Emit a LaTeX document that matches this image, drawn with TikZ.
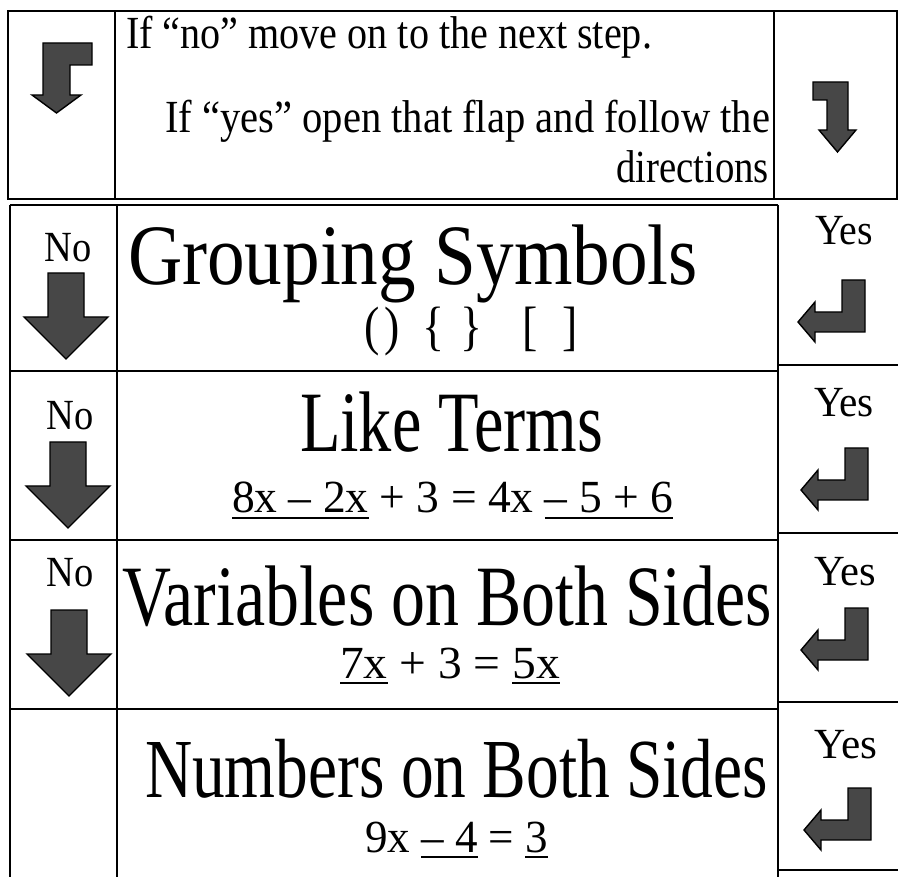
\documentclass[tikz,border=0pt]{standalone}
\usepackage{fontspec}
\setmainfont{Liberation Serif}
\usepackage{graphicx}
\newcommand\fw[3]{\resizebox{#1pt}{\height}{\fontsize{#2pt}{#2pt}\selectfont #3}}
\newcommand\ulx[1]{\setbox0\hbox{#1}\rlap{\rule[-0.13em]{\wd0}{0.05em}}\box0{}}
\newcommand\sg[1]{\scalebox{0.85}[1]{#1}}
\newcommand\noarrow[2]{\filldraw[blockarrow] ({#1-18},{#2}) -- ({#1+18},{#2}) -- ({#1+18},{#2+44}) -- ({#1+42},{#2+44}) -- ({#1},{#2+86}) -- ({#1-42},{#2+44}) -- ({#1-18},{#2+44}) -- cycle;}
\newcommand\yesarrow[2]{\filldraw[blockarrow] ({#1},{#2}) -- ({#1},{#2+52}) -- ({#1-50},{#2+52}) -- ({#1-50},{#2+62}) -- ({#1-67},{#2+42}) -- ({#1-50},{#2+22}) -- ({#1-50},{#2+32}) -- ({#1-23},{#2+32}) -- ({#1-23},{#2}) -- cycle;}
\begin{document}
\begin{tikzpicture}[x=1pt,y=-1pt,
  grid/.style={line width=1.3pt,draw=black},
  blockarrow/.style={fill=black!72,draw=black,line width=1.4pt,line join=miter},
  txt/.style={inner sep=0pt,outer sep=0pt,anchor=base west},
  ctxt/.style={inner sep=0pt,outer sep=0pt,anchor=base}]
\useasboundingbox (0,0) rectangle (898,877);
% ---- top row
\draw[grid] (8,11) rectangle (897,199);
\draw[grid] (115,11) -- (115,199);
\draw[grid] (774,11) -- (774,199);
% ---- left + middle columns
\foreach \yy in {205,371,540,709} \draw[grid] (10,\yy) -- (778,\yy);
\draw[grid] (10,205) -- (10,877);
\draw[grid] (117,205) -- (117,877);
\draw[grid] (778,205) -- (778,877);
% ---- right column
\foreach \yy in {365,533,702,870} \draw[grid] (778,\yy) -- (898,\yy);
% ---- arrows of the top row
\filldraw[blockarrow] (43,43) -- (92,43) -- (92,65) -- (70,65) -- (70,95) -- (81,95) -- (56.5,113) -- (32,95) -- (43,95) -- cycle;
\filldraw[blockarrow] (813,82) -- (848,82) -- (848,130) -- (856,130) -- (837.5,152) -- (819,130) -- (827,130) -- (827,100) -- (813,100) -- cycle;
% ---- top text
\node[txt] (l1) at (126,49) {\fw{526}{46}{If “no” move on to the next step.}};
\node[txt] (l2) at (165,133) {\fw{605}{46}{If “yes” open that flap and follow the}};
\node[txt,anchor=base east] (l3) at (769,183) {\fw{153}{46}{directions}};
% ---- No labels and arrows
\node[ctxt] (no1) at (68,262) {\fw{47}{43}{No}};
\node[ctxt] (no2) at (70,430) {\fw{47}{43}{No}};
\node[ctxt] (no3) at (70,586) {\fw{47}{43}{No}};
\noarrow{66}{273}
\noarrow{68}{442}
\noarrow{69}{610}
% ---- Yes labels and arrows
\node[ctxt] (yes1) at (844,245) {\fw{58}{43}{Yes}};
\node[ctxt] (yes2) at (844,417) {\fw{60}{43}{Yes}};
\node[ctxt] (yes3) at (845,585) {\fw{62}{43}{Yes}};
\node[ctxt] (yes4) at (846,758) {\fw{63}{43}{Yes}};
\yesarrow{865}{280}
\yesarrow{868}{448}
\yesarrow{868}{608}
\yesarrow{871}{788}
% ---- headings
\node[txt] (h1) at (128,285) {\fw{570}{86}{Grouping Symbols}};
\node[txt] (h2) at (300,452) {\fw{303}{86}{Like Terms}};
\node[txt] (h3) at (122,625) {\fw{650}{86}{Variables on Both Sides}};
\node[txt] (h4) at (145,797) {\fw{623}{84}{Numbers on Both Sides}};
% ---- examples
\node[txt] (e1) at (364,345) {\fontsize{54pt}{54pt}\selectfont\rlap{\sg{(}}\hspace{20pt}\rlap{\sg{)}}\hspace{38pt}\rlap{\sg{\{}}\hspace{38pt}\rlap{\sg{\}}}\hspace{62pt}\rlap{\sg{[}}\hspace{40pt}\sg{]}};
\node[txt] (e2) at (232,513) {\fw{441}{46}{\ulx{8x – 2x} + 3 = 4x \ulx{– 5 + 6}}};
\node[txt] (e3) at (340,678) {\fw{220}{46}{\ulx{7x} + 3 = \ulx{5x}}};
\node[txt] (e4) at (365,852) {\fw{183}{46}{9x \ulx{– 4} = \ulx{3}}};
\end{tikzpicture}
\end{document}
